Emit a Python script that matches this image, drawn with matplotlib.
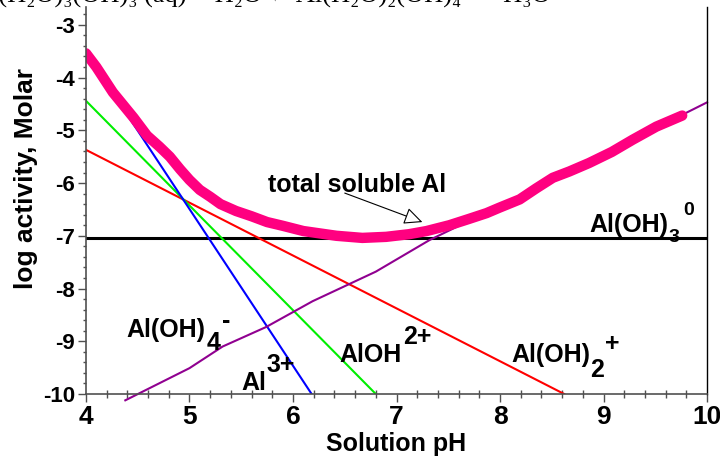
import matplotlib.pyplot as plt
from matplotlib.ticker import MultipleLocator

plt.rcParams['font.family'] = ['Liberation Sans', 'DejaVu Sans']
plt.rcParams['font.weight'] = 'bold'
plt.rcParams['axes.unicode_minus'] = False

# total soluble Al
total_ph = [4.00, 4.10, 4.20, 4.26, 4.36, 4.46, 4.59, 4.71, 4.81, 4.91, 5.00,
            5.10, 5.20, 5.30, 5.45, 5.60, 5.75, 5.90, 6.10, 6.42, 6.67, 6.90,
            7.12, 7.29, 7.51, 7.70, 7.87, 7.99, 8.19, 8.35, 8.51, 8.67, 8.86,
            9.08, 9.28, 9.51, 9.76]
total_log = [-3.54, -3.80, -4.10, -4.28, -4.52, -4.76, -5.10, -5.31, -5.50,
             -5.74, -5.94, -6.13, -6.26, -6.40, -6.53, -6.63, -6.74, -6.81,
             -6.91, -7.00, -7.04, -7.02, -6.97, -6.91, -6.80, -6.68, -6.57,
             -6.47, -6.31, -6.10, -5.90, -5.78, -5.62, -5.41, -5.18, -4.93,
             -4.72]

# species
al3_ph = [4.0, 6.18]
al3_log = [-3.52, -10.0]
aloh_ph = [4.0, 6.8]
aloh_log = [-4.44, -10.0]
aloh2_ph = [4.0, 8.62]
aloh2_log = [-5.37, -10.0]
aloh4_ph = [4.38, 5.00, 5.32, 5.74, 6.19, 6.80, 7.32, 8.21, 10.0]
aloh4_log = [-10.12, -9.51, -9.10, -8.73, -8.24, -7.68, -7.08, -6.23, -4.47]
aloh3_ph = [4.0, 10.0]
aloh3_log = [-7.05, -7.05]

fig = plt.figure(figsize=(7.2, 4.62), dpi=100)
ax = fig.add_axes([0.1194, 0.1472, 0.982 - 0.1194, 0.985 - 0.1472])

ax.plot(aloh3_ph, aloh3_log, color='black', lw=2.2)
ax.plot(aloh2_ph, aloh2_log, color='#ff0000', lw=1.5)
ax.plot(aloh_ph, aloh_log, color='#00ee00', lw=1.5)
ax.plot(al3_ph, al3_log, color='#0000ff', lw=1.5)
ax.plot(aloh4_ph, aloh4_log, color='#900090', lw=1.5, clip_on=False)
ax.plot(total_ph, total_log, color='#ff0080', lw=7.5,
        solid_capstyle='round', solid_joinstyle='round')

ax.set_xlim(4, 10)
ax.set_ylim(-10, -2.66)

ax.xaxis.set_major_locator(MultipleLocator(1))
ax.xaxis.set_minor_locator(MultipleLocator(0.2))
ax.yaxis.set_major_locator(MultipleLocator(1))
ax.yaxis.set_minor_locator(MultipleLocator(0.2))
ax.tick_params(axis='x', which='major', direction='out', length=6, width=1,
               color='#505050', labelsize=19, pad=2)
ax.tick_params(axis='x', which='minor', direction='inout', length=6, width=1,
               color='#505050')
ax.tick_params(axis='y', which='major', direction='out', length=6, width=1,
               color='#505050', labelsize=16, pad=2)
ax.tick_params(axis='y', which='minor', direction='out', length=2.5, width=1,
               color='#505050')

ax.spines['top'].set_visible(False)
ax.spines['right'].set_color('black')
ax.spines['right'].set_linewidth(1)
for s in ['left', 'bottom']:
    ax.spines[s].set_color('#505050')
    ax.spines[s].set_linewidth(1.2)

ax.set_xlabel('Solution pH', fontsize=18, fontweight='bold', labelpad=2)
ax.set_ylabel('log activity, Molar', fontsize=19, fontweight='bold')
ax.yaxis.set_label_coords(-0.077, 0.557)


def chem(x, y, base, parts, size=18):
    prev = ax.text(x, y, base, fontsize=size, fontweight='bold',
                   ha='left', va='baseline')
    for txt, yy, fs, dx in parts:
        prev = ax.annotate(txt, xy=(1, yy), xycoords=(prev, 'data'),
                           xytext=(dx, 0), textcoords='offset points',
                           fontsize=fs, fontweight='bold',
                           ha='left', va='baseline')


chem(4.395, -8.92, 'Al(OH)', [('4', -9.167, 18, 0.5), ('-', -8.75, 18, 1)])
chem(5.50, -9.925, 'Al', [('3+', -9.584, 18, 0)])
chem(6.449, -9.395, 'AlOH', [('2+', -9.053, 18, 1)])
chem(8.108, -9.395, 'Al(OH)', [('2', -9.68, 18, 0), ('+', -9.186, 18, 0.5)])
chem(8.86, -6.928, 'Al(OH)', [('3', -7.118, 14, 0), ('0', -6.605, 14, 3)])

ax.text(5.755, -6.17, 'total soluble Al', fontsize=18, fontweight='bold',
        ha='left', va='baseline')
ax.annotate('', xy=(7.25, -6.74), xytext=(6.50, -6.19),
            arrowprops=dict(arrowstyle='-|>,head_length=0.75,head_width=0.35',
                            mutation_scale=15, fc='white', ec='black', lw=0.8,
                            shrinkA=0, shrinkB=0))

# equation cut off at the top of the page
fig.text(-28 / 720, 1 - 3 / 462,
         'Al(H\u2082O)\u2083(OH)\u2083 (aq) + H\u2082O \u21cc Al(H\u2082O)\u2082(OH)\u2084\u207b + H\u2083O\u207a',
         fontsize=19, fontweight='normal', ha='left', va='baseline',
         family=['Liberation Serif', 'DejaVu Serif'])

fig.savefig('out.png', dpi=100)
